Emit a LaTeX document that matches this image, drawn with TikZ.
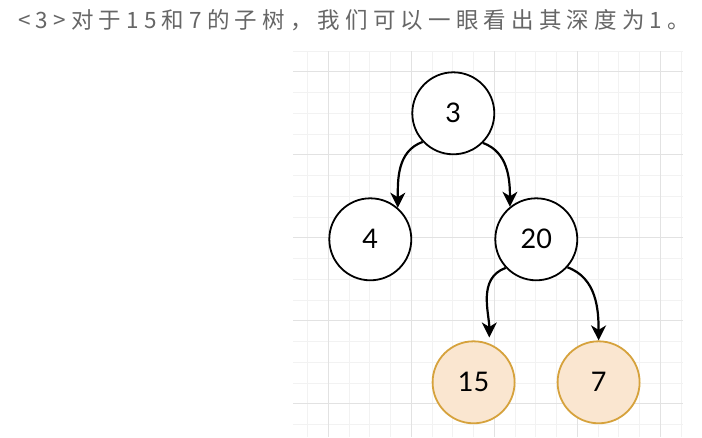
\documentclass[tikz,border=0pt]{standalone}
\usepackage{fontspec}
\setmainfont{Lato}
\newfontfamily\cjkfont[LetterSpace=23]{Noto Sans CJK SC}
\usetikzlibrary{arrows.meta,positioning}
\definecolor{gridminor}{HTML}{F2F2F2}
\definecolor{gridmajor}{HTML}{E2E2E2}
\definecolor{leaffill}{HTML}{FAE6D0}
\definecolor{leafdraw}{HTML}{D6A23C}
\definecolor{captext}{HTML}{666666}

\begin{document}
\begin{tikzpicture}[
    x=1pt, y=-1pt,
    node distance=126pt and 83pt, on grid,
    treenode/.style={circle, draw=black, line width=1.8pt, fill=white,
                 minimum size=82pt, inner sep=0pt,
                 font=\fontsize{27}{27}\selectfont},
    leafnode/.style={treenode, draw=leafdraw, fill=leaffill},
    captiontext/.style={font=\cjkfont\fontsize{22.5}{22.5}\selectfont, text=captext,
                 inner sep=0pt, anchor=base west},
    edge/.style={-{Stealth[length=15pt, width=15pt, inset=4.5pt]}, line width=2.2pt},
]
\useasboundingbox[fill=white] (0,0) rectangle (702,437);

% grid paper
\begin{scope}
  \clip (293,51) rectangle (683,437);
  \foreach \k in {-2,...,18}
    \draw[gridminor, line width=0.8pt] ({328.3+\k*20.75},51) -- ++(0,386);
  \foreach \k in {-1,...,18}
    \draw[gridminor, line width=0.8pt] (293,{71.7+\k*20.75}) -- ++(390,0);
  \foreach \k in {0,...,4}
    \draw[gridmajor, line width=0.9pt] ({328.3+\k*83},51) -- ++(0,386);
  \foreach \k in {0,...,4}
    \draw[gridmajor, line width=0.9pt] (293,{71.7+\k*83}) -- ++(390,0);
\end{scope}

\node[captiontext] (caption) at (18,28) {<3>对于15和7的子树，我们可以一眼看出其深度为1。};

% tree
\node[treenode] (n3) at (453.3,113.3) {3};
\node[treenode, below left=of n3] (n4) {4};
\node[treenode, below right=of n3] (n20) {20};
\node[leafnode, below left=143pt and 62.7pt of n20] (n15) {15};
\node[leafnode, below right=143pt and 62.3pt of n20] (n7) {7};

\draw[edge] (n3.223) to[out=200, in=90] (n4.49);
\draw[edge] (n3.315) to[out=-20, in=90] (n20.129);
\draw[edge, shorten >=6pt] (n20.223) to[out=200, in=90] (n15.68);
\draw[edge] (n20.318) to[out=-20, in=90] (n7.north);

\end{tikzpicture}
\end{document}
